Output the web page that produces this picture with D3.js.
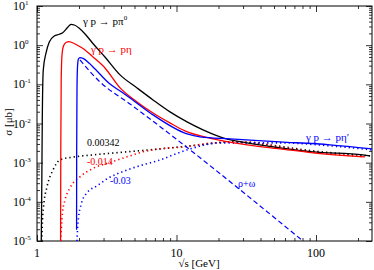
<!DOCTYPE html>
<html>
<head>
<meta charset="utf-8">
<script src="https://cdn.jsdelivr.net/npm/d3@7"></script>
<style>
body { margin: 0; background: #fff; }
svg { display: block; font-family: "Liberation Serif", "Times New Roman", serif; }
</style>
</head>
<body>
<svg width="374" height="270"></svg>
<script>
// cross sections: [sqrt(s) in GeV, sigma in microbarn]
var pi0Total = [[1.073,1e-5],[1.083,3.64e-4],[1.091,0.0124],[1.109,0.233],[1.16,0.63],[1.225,1.21],
  [1.33,1.72],[1.445,1.9],[1.528,2.08],[1.66,2.86],[1.753,3.41],[1.851,3.27],[2.01,2.7],[2.245,1.82],
  [2.508,1.12],[3.07,0.5],[3.94,0.174],[5.21,0.081],[6.79,0.04],[8.98,0.0198],[11.9,0.011],
  [15.5,0.00687],[21.5,0.0043],[32,0.0032],[55.2,0.00239],[95.2,0.00189],[217,0.00158],[244,0.00149]];
var etaTotal = [[1.476,1e-5],[1.481,0.00212],[1.491,0.129],[1.511,0.56],[1.548,0.95],[1.613,1.17],
  [1.696,1.23],[1.782,1.17],[1.935,1.01],[2.137,0.82],[2.52,0.5],[3.07,0.262],[3.94,0.081],
  [5.21,0.0356],[6.79,0.0186],[8.98,0.01035],[11.5,0.00648],[18.3,0.00405],[32,0.00285],
  [55.2,0.00225],[95.2,0.00178],[224,0.00141]];
var etaPrimeTotal = [[1.922,1.93e-5],[1.925,0.00212],[1.935,0.072],[1.95,0.263],[1.98,0.44],[2.033,0.48],
  [2.137,0.46],[2.37,0.345],[2.576,0.258],[3.337,0.102],[3.94,0.0677],[4.642,0.045],[6.79,0.0166],
  [11.9,0.00543],[14.74,0.00455],[24.2,0.00405],[55.2,0.0034],[126,0.00285],[252,0.00225]];
var rhoOmega = [[2.033,0.419],[2.829,0.115],[4.642,0.0316],[80.7,1e-5]];
var pi0Dotted = [[1.083,1e-5],[1.095,3.5e-5],[1.113,7.4e-5],[1.18,2.42e-4],[1.302,6.5e-4],[1.462,1.18e-3],
  [1.873,1.41e-3],[2.52,1.58e-3],[4.42,1.89e-3],[7.62,2.25e-3],[10.6,2.53e-3],[14.7,2.85e-3],
  [24.2,3.4e-3],[39.7,3.02e-3],[95.2,2.0e-3],[244,1.49e-3]];
var etaDotted = [[1.48,1e-5],[1.498,2.3e-5],[1.523,5.2e-5],[1.588,1.12e-4],[1.724,2.28e-4],[2.033,4.35e-4],
  [2.48,6.95e-4],[3.45,1.05e-3],[4.42,1.41e-3],[5.75,1.89e-3],[7.62,2.25e-3],[11.5,2.53e-3],
  [18.3,3.2e-3],[32,3.4e-3],[55.2,2.53e-3],[95.2,1.89e-3],[224,1.41e-3]];
var etaPrimeDotted = [[1.935,1e-5],[1.951,1.93e-5],[1.984,3.9e-5],[2.067,8.4e-5],[2.283,1.7e-4],
  [2.692,2.56e-4],[3.18,3.86e-4],[4.42,6.5e-4],[5.75,8.8e-4],[7.25,1.11e-3],[11.9,2.12e-3],
  [20.5,3.2e-3],[55.2,3.2e-3],[126,2.69e-3],[252,2.12e-3]];

var xMajor = [1, 10, 100];
var xMinor = [2,3,4,5,6,7,8,9,20,30,40,50,60,70,80,90,200];
var yExponents = [-5, -4, -3, -2, -1, 0, 1];
var yMinor = [];
yExponents.slice(0, -1).forEach(function(e) {
  [2,3,4,5,6,7,8,9].forEach(function(m) { yMinor.push(m * Math.pow(10, e)); });
});

var svg = d3.select("svg");
var x0 = 37, x1 = 372, y0 = 6, y1 = 241;

var x = d3.scaleLog().domain([1, 252]).range([x0, x1]);
var y = d3.scaleLog().domain([1e-5, 10]).range([y1, y0]);

svg.append("defs").append("clipPath").attr("id", "plot")
  .append("rect").attr("x", x0).attr("y", y0)
  .attr("width", x1 - x0).attr("height", y1 - y0);

function ticks(axis, values, size, tx, ty) {
  var g = svg.append("g").attr("transform", "translate(" + tx + "," + ty + ")")
    .call(axis.tickValues(values).tickSize(-size).tickFormat(""));
  g.select(".domain").remove();
  g.selectAll(".tick line").attr("stroke", "#000").attr("stroke-width", 0.8);
}
ticks(d3.axisBottom(x), xMajor, 6, 0, y1);
ticks(d3.axisBottom(x), xMinor, 3, 0, y1);
ticks(d3.axisTop(x), xMajor, 6, 0, y0);
ticks(d3.axisTop(x), xMinor, 3, 0, y0);
var yMajor = yExponents.map(function(e) { return Math.pow(10, e); });
ticks(d3.axisLeft(y), yMajor, 6, x0, 0);
ticks(d3.axisLeft(y), yMinor, 3, x0, 0);
ticks(d3.axisRight(y), yMajor, 6, x1, 0);
ticks(d3.axisRight(y), yMinor, 3, x1, 0);

svg.append("rect").attr("x", x0).attr("y", y0)
  .attr("width", x1 - x0).attr("height", y1 - y0)
  .attr("fill", "none").attr("stroke", "#000").attr("stroke-width", 1);

// tick labels
svg.selectAll(".xlab").data(xMajor).enter().append("text")
  .attr("x", function(d) { return x(d); })
  .attr("y", 257)
  .attr("text-anchor", "middle")
  .attr("font-size", "12px")
  .text(function(d) { return d; });

var ylab = svg.selectAll(".ylab").data(yExponents).enter().append("text")
  .attr("x", 13)
  .attr("y", function(d) { return y(Math.pow(10, d)) + 4; })
  .attr("font-size", "12px");
ylab.append("tspan").text("10");
ylab.append("tspan").attr("dy", -5).attr("font-size", "7px").text(function(d) { return d; });

svg.append("text")
  .attr("x", 199).attr("y", 267)
  .attr("text-anchor", "middle")
  .attr("font-size", "11px")
  .text("\u221As [GeV]");

svg.append("text")
  .attr("transform", "translate(12,122) rotate(-90)")
  .attr("text-anchor", "middle")
  .attr("font-size", "11px")
  .text("\u03C3 [\u03BCb]");

// curves
var line = d3.line()
  .x(function(d) { return x(d[0]); })
  .y(function(d) { return y(d[1]); })
  .curve(d3.curveMonotoneX);

var plot = svg.append("g").attr("clip-path", "url(#plot)");

var series = [
  {data: pi0Dotted, color: "#000", dash: "1.3,3", w: 1.6},
  {data: etaDotted, color: "#ff0000", dash: "1.3,3", w: 1.6},
  {data: etaPrimeDotted, color: "#0000ff", dash: "1.3,3", w: 1.6},
  {data: rhoOmega, color: "#0000ff", dash: "5,3", w: 1.2},
  {data: pi0Total, color: "#000", dash: null, w: 1.3},
  {data: etaTotal, color: "#ff0000", dash: null, w: 1.3},
  {data: etaPrimeTotal, color: "#0000ff", dash: null, w: 1.3}
];

plot.selectAll("path.curve").data(series).enter().append("path")
  .attr("class", "curve")
  .attr("d", function(d) { return line(d.data); })
  .attr("fill", "none")
  .attr("stroke", function(d) { return d.color; })
  .attr("stroke-width", function(d) { return d.w; })
  .attr("stroke-dasharray", function(d) { return d.dash; });

// annotations
var t1 = svg.append("text").attr("x", 83).attr("y", 25).attr("font-size", "11px").attr("fill", "#000");
t1.append("tspan").text("\u03B3 p \u2192 p\u03C0");
t1.append("tspan").attr("dy", -5).attr("font-size", "7px").text("0");

svg.append("text").attr("x", 91).attr("y", 53).attr("font-size", "11px").attr("fill", "#ff0000")
  .text("\u03B3 p \u2192 p\u03B7");

svg.append("text").attr("x", 306).attr("y", 141).attr("font-size", "11px").attr("fill", "#0000ff")
  .text("\u03B3 p \u2192 p\u03B7\u2032");

svg.append("text").attr("x", 87).attr("y", 146).attr("font-size", "10px").attr("fill", "#000").text("0.00342");
svg.append("text").attr("x", 87).attr("y", 165).attr("font-size", "10px").attr("fill", "#ff0000").text("-0.014");
svg.append("text").attr("x", 110).attr("y", 184).attr("font-size", "10px").attr("fill", "#0000ff").text("-0.03");
svg.append("text").attr("x", 238).attr("y", 187).attr("font-size", "10px").attr("fill", "#0000ff").text("\u03C1+\u03C9");
</script>
</body>
</html>
